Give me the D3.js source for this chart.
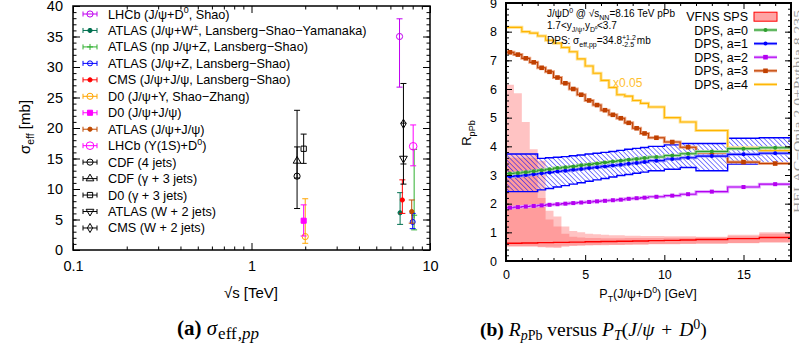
<!DOCTYPE html>
<html>
<head>
<meta charset="utf-8">
<script src="https://cdn.jsdelivr.net/npm/d3@7"></script>
<style>
  body { margin: 0; background: #fff; }
  text { white-space: pre; }
</style>
</head>
<body>
<svg id="fig" width="799" height="354" font-family="Liberation Sans, Arial, sans-serif"></svg>
<script>
// ---------------- panel (a): sigma_eff measurements ----------------
const expLabels = ["LHCb (J/ψ+D^{0}, Shao)", "ATLAS (J/ψ+W^{±}, Lansberg−Shao−Yamanaka)",
  "ATLAS (np J/ψ+Z, Lansberg−Shao)", "ATLAS (J/ψ+Z, Lansberg−Shao)", "CMS (J/ψ+J/ψ, Lansberg−Shao)",
  "D0 (J/ψ+Υ, Shao−Zhang)", "D0 (J/ψ+J/ψ)", "ATLAS (J/ψ+J/ψ)", "LHCb (Υ(1S)+D^{0})",
  "CDF (4 jets)", "CDF (γ + 3 jets)", "D0 (γ + 3 jets)", "ATLAS (W + 2 jets)", "CMS (W + 2 jets)"];
const expColors = ["#c000f0", "#007050", "#30b030", "#0000ff", "#ff0000", "#ffa500", "#ff00ff",
  "#c04a00", "#ff00ff", "#000", "#000", "#000", "#000", "#000"];
const expSymbols = ["circle", "dot", "plus", "circleSmall", "dot", "circle", "squareFilled", "dot",
  "circleBig", "circle", "triangle", "square", "triangleDown", "diamond"];
const expSqrtS = [6.75, 6.8, 8.15, 8.0, 7.0, 2.0, 1.96, 7.9, 8.05, 1.8, 1.8, 1.96, 7.1, 7.1];
const expSigma = [35.0, 6.1, 5.7, 4.6, 8.2, 2.2, 4.8, 6.3, 17.0, 12.1, 14.6, 16.6, 15.0, 20.7];
const expErrLo = [26.7, 4.2, 3.3, 3.5, 6.0, 1.1, 2.3, 4.4, 13.8, 6.8, 11.8, 14.2, 10.8, 14.1];
const expErrHi = [37.9, 9.4, 16.5, 6.0, 11.5, 8.4, 7.4, 8.2, 20.5, 22.9, 16.9, 19.0, 20.8, 27.3];

const sqrtsTicks = [0.1, 1, 10];
const sqrtsMinor = [0.2, 0.3, 0.4, 0.5, 0.6, 0.7, 0.8, 0.9, 2, 3, 4, 5, 6, 7, 8, 9];
const sigmaTicks = [0, 5, 10, 15, 20, 25, 30, 35, 40];

// ---------------- panel (b): R_pPb vs pT ----------------
const ptEdges = [0, 0.5, 1, 1.5, 2, 2.5, 3, 3.5, 4, 4.5, 5, 5.5, 6, 6.5, 7, 7.5, 8, 8.5, 9, 10, 11, 12, 14, 16, 18];
const dpsA0 = [3.05, 3.07, 3.1, 3.13, 3.17, 3.2, 3.24, 3.27, 3.3, 3.34, 3.37, 3.4, 3.44, 3.47, 3.5, 3.53,
  3.56, 3.59, 3.63, 3.68, 3.74, 3.82, 3.92, 3.95];
const dpsA1 = [2.95, 2.97, 3.0, 3.03, 3.06, 3.09, 3.12, 3.15, 3.18, 3.21, 3.24, 3.27, 3.3, 3.33, 3.36, 3.39,
  3.42, 3.45, 3.5, 3.56, 3.6, 3.66, 3.72, 3.76];
const dpsA1Lo = [2.42, 2.42, 2.42, 2.42, 2.48, 2.53, 2.58, 2.63, 2.68, 2.73, 2.78, 2.83, 2.88, 2.93, 2.98, 3.02,
  3.06, 3.1, 3.15, 3.2, 3.26, 3.15, 3.38, 3.38];
const dpsA1Hi = [3.73, 3.73, 3.73, 3.73, 3.58, 3.6, 3.62, 3.64, 3.67, 3.7, 3.73, 3.76, 3.79, 3.82, 3.86, 3.9,
  3.93, 3.96, 4.0, 4.05, 4.1, 4.1, 4.28, 4.3];
const dpsA2 = [1.86, 1.88, 1.9, 1.92, 1.94, 1.96, 1.98, 2.0, 2.02, 2.04, 2.06, 2.08, 2.1, 2.12, 2.14, 2.17,
  2.19, 2.21, 2.24, 2.28, 2.33, 2.42, 2.58, 2.68];
const dpsA3 = [7.28, 7.2, 7.07, 6.93, 6.74, 6.6, 6.4, 6.2, 6.0, 5.8, 5.6, 5.44, 5.26, 5.1, 4.98, 4.82,
  4.63, 4.45, 4.3, 4.15, 3.97, 3.78, 3.45, 3.4];
const dpsA4 = [8.15, 8.15, 8.0, 7.95, 7.85, 7.7, 7.6, 7.45, 7.3, 7.05, 6.8, 6.55, 6.3, 6.05, 5.8, 5.75,
  5.6, 5.5, 5.37, 5.0, 4.85, 4.55, 3.95, 3.85];
const spsCentral = [0.62, 0.62, 0.63, 0.63, 0.64, 0.64, 0.65, 0.65, 0.66, 0.66, 0.67, 0.67, 0.68, 0.68, 0.69, 0.69,
  0.7, 0.7, 0.71, 0.72, 0.73, 0.75, 0.78, 0.82];
const spsBandAHi = [6.15, 5.85, 4.85, 3.9, 3.5, 1.75, 1.55, 1.2, 1.05, 1.0, 0.95, 0.93, 0.92, 0.9, 0.9, 0.88,
  0.88, 0.87, 0.87, 0.86, 0.86, 0.85, 0.92, 1.0];
const spsBandALo = [0.5, 0.5, 0.5, 0.5, 0.48, 0.46, 0.45, 0.5, 0.52, 0.53, 0.54, 0.55, 0.55, 0.56, 0.56, 0.56,
  0.57, 0.57, 0.58, 0.58, 0.59, 0.6, 0.62, 0.64];
const spsBandBHi = [3.6, 3.6, 3.6, 3.6, 2.2, 1.45, 1.2, 0.95, 0.85, 0.82, 0.8, 0.8, 0.79, 0.79, 0.79, 0.8,
  0.8, 0.8, 0.8, 0.81, 0.81, 0.82, 0.86, 0.95];
const spsBandBLo = [0.52, 0.52, 0.52, 0.52, 0.5, 0.5, 0.5, 0.53, 0.54, 0.55, 0.56, 0.56, 0.57, 0.57, 0.57, 0.58,
  0.58, 0.58, 0.59, 0.59, 0.6, 0.61, 0.63, 0.66];

const ptTicks = [0, 5, 10, 15];
const ptMinor = [1, 2, 3, 4, 6, 7, 8, 9, 11, 12, 13, 14, 16, 17, 18];
const rTicks = [0, 1, 2, 3, 4, 5, 6, 7, 8, 9];

const dpsNames = ["DPS, a=0", "DPS, a=1", "DPS, a=2", "DPS, a=3", "DPS, a=4"];
const dpsColors = ["#2e9e2e", "#0000ff", "#b400f0", "#c04000", "#ffb400"];
const dpsHalo = ["#9fd59f", "#8c8cff", "#e0a0ff", "#eba684", "#ffe08a"];

// ---------------------------------------------------------------
const svg = d3.select("#fig");
const SANS = "Liberation Sans, Arial, sans-serif";
const SERIF = "Liberation Serif, Times New Roman, serif";

// text with ^{} and _{} markup
function rich(t, str, fs) {
  const parts = str.split(/(\^\{[^}]*\}|_\{[^}]*\})/).filter(s => s !== "");
  let shift = 0, lastSup = null;
  parts.forEach(p => {
    let target = 0, size = fs, content = p;
    const isSup = p.startsWith("^{"), isSub = p.startsWith("_{");
    if (isSup) { target = -0.42 * fs; size = 0.7 * fs; content = p.slice(2, -1); }
    if (isSub) { target = 0.28 * fs; size = 0.7 * fs; content = p.slice(2, -1); }
    const ts = t.append("tspan").attr("dy", target - shift).attr("font-size", size).text(content);
    if (isSub && lastSup) ts.attr("dx", -lastSup.node().getComputedTextLength());
    lastSup = isSup ? ts : null;
    shift = target;
  });
  return t;
}

function styleAxis(a, fs) {
  a.select(".domain").remove();
  a.selectAll("line").attr("stroke", "#000").attr("stroke-width", 1);
  a.selectAll("text").attr("font-size", fs).attr("font-family", SANS).attr("fill", "#000");
}

function frame(g, x, y, o) {
  const [x0, x1] = x.range(), [y0, y1] = y.range();
  const add = (axis, tr) => { const a = g.append("g").attr("transform", tr).call(axis); styleAxis(a, o.fs); };
  add(d3.axisBottom(x).tickValues(o.xMajor).tickSize(-o.maj).tickPadding(o.xPad).tickFormat(o.xFmt), `translate(0,${y0})`);
  add(d3.axisBottom(x).tickValues(o.xMinor).tickSize(-o.min).tickFormat(""), `translate(0,${y0})`);
  add(d3.axisTop(x).tickValues(o.xMajor).tickSize(-o.maj).tickFormat(""), `translate(0,${y1})`);
  add(d3.axisTop(x).tickValues(o.xMinor).tickSize(-o.min).tickFormat(""), `translate(0,${y1})`);
  add(d3.axisLeft(y).tickValues(o.yMajor).tickSize(-o.maj).tickPadding(o.yPad).tickFormat(d3.format("d")), `translate(${x0},0)`);
  add(d3.axisLeft(y).tickValues(o.yMinor).tickSize(-o.min).tickFormat(""), `translate(${x0},0)`);
  add(d3.axisRight(y).tickValues(o.yMajor).tickSize(-o.maj).tickFormat(""), `translate(${x1},0)`);
  add(d3.axisRight(y).tickValues(o.yMinor).tickSize(-o.min).tickFormat(""), `translate(${x1},0)`);
  g.append("rect").attr("x", x0).attr("y", y1).attr("width", x1 - x0).attr("height", y0 - y1)
    .attr("fill", "none").attr("stroke", "#000").attr("stroke-width", o.sw);
}

function marker(g, type, cx, cy, color) {
  const spec = {
    circle: [d3.symbolCircle, 30, false], circleSmall: [d3.symbolCircle, 20, false],
    circleBig: [d3.symbolCircle, 46, false], dot: [d3.symbolCircle, 14, true],
    squareFilled: [d3.symbolSquare, 26, true], square: [d3.symbolSquare, 28, false],
    triangle: [d3.symbolTriangle, 26, false], triangleDown: [d3.symbolTriangle, 26, false],
    diamond: [d3.symbolDiamond, 24, false]
  };
  if (type === "plus") {
    g.append("path").attr("d", `M${cx - 3},${cy}H${cx + 3}M${cx},${cy - 3}V${cy + 3}`)
      .attr("stroke", color).attr("stroke-width", 1);
    return;
  }
  const [sym, size, filled] = spec[type];
  g.append("path").attr("d", d3.symbol(sym, size)())
    .attr("transform", `translate(${cx},${cy})` + (type === "triangleDown" ? " rotate(180)" : ""))
    .attr("fill", filled ? color : "none").attr("stroke", color).attr("stroke-width", 1);
}

// ================= panel (a) =================
const xA = d3.scaleLog().domain([0.1, 10]).range([73, 430]);
const yA = d3.scaleLinear().domain([0, 40]).range([250, 6]);
const gA = svg.append("g");

frame(gA, xA, yA, {
  xMajor: sqrtsTicks, xMinor: sqrtsMinor, yMajor: sigmaTicks, yMinor: d3.range(0, 41),
  maj: 7, min: 3.5, fs: 14.5, xPad: 11, yPad: 10, sw: 1.5, xFmt: d3.format("")
});

// data points
expLabels.forEach((lab, i) => {
  const cx = xA(expSqrtS[i]), c = expColors[i];
  const ylo = yA(expErrLo[i]), yhi = yA(expErrHi[i]);
  gA.append("path").attr("d", `M${cx},${ylo}V${yhi}M${cx - 3},${ylo}H${cx + 3}M${cx - 3},${yhi}H${cx + 3}`)
    .attr("stroke", c).attr("stroke-width", 1).attr("fill", "none");
  marker(gA, expSymbols[i], cx, yA(expSigma[i]), c);
});

// legend
expLabels.forEach((lab, i) => {
  const ly = 14 + 16.46 * i, c = expColors[i];
  gA.append("path").attr("d", `M83,${ly}H97M83,${ly - 2.5}V${ly + 2.5}M97,${ly - 2.5}V${ly + 2.5}`)
    .attr("stroke", c).attr("stroke-width", 1);
  marker(gA, expSymbols[i], 90, ly, c);
  rich(gA.append("text").attr("x", 108).attr("y", ly + 4.5).attr("font-size", 12.7), lab, 12.7);
});

// axis titles
rich(gA.append("text").attr("transform", "translate(30,127) rotate(-90)").attr("text-anchor", "middle")
  .attr("font-size", 15), "σ_{eff} [mb]", 15);
gA.append("text").attr("x", 251).attr("y", 298).attr("text-anchor", "middle").attr("font-size", 15)
  .text("√s [TeV]");

// ================= panel (b) =================
const xB = d3.scaleLinear().domain([0, 18]).range([506, 791]);
const yB = d3.scaleLinear().domain([0, 9]).range([261, 3]);
const gB = svg.append("g");

const defs = svg.append("defs");
defs.append("clipPath").attr("id", "clipB").append("rect")
  .attr("x", 506).attr("y", 3).attr("width", 285).attr("height", 258);
const pat = defs.append("pattern").attr("id", "hatch").attr("patternUnits", "userSpaceOnUse")
  .attr("width", 3.4).attr("height", 3.4).attr("patternTransform", "rotate(-45)");
pat.append("line").attr("x1", 0).attr("y1", 0).attr("x2", 0).attr("y2", 3.4)
  .attr("stroke", "#0000ff").attr("stroke-width", 1);

const plot = gB.append("g").attr("clip-path", "url(#clipB)");
const binVal = (arr, i) => arr[Math.min(i, arr.length - 1)];
const bandArea = d3.area().x(d => xB(d.x)).y0(d => yB(d.lo)).y1(d => yB(d.hi)).curve(d3.curveStepAfter);
const stepLine = d3.line().x(d => xB(d.x)).y(d => yB(d.y)).curve(d3.curveStepAfter);
const bandPts = (lo, hi) => ptEdges.map((e, i) => ({ x: e, lo: binVal(lo, i), hi: binVal(hi, i) }));
const linePts = v => ptEdges.map((e, i) => ({ x: e, y: binVal(v, i) }));

// VFNS SPS bands
[[spsBandALo, spsBandAHi], [spsBandBLo, spsBandBHi]].forEach(([lo, hi]) => {
  plot.append("path").attr("d", bandArea(bandPts(lo, hi))).attr("fill", "#ff5a5a").attr("fill-opacity", 0.36);
});
plot.append("path").attr("d", stepLine(linePts(spsCentral))).attr("fill", "none")
  .attr("stroke", "#ff0000").attr("stroke-width", 1.4);

// a=1 uncertainty band (hatched)
plot.append("path").attr("d", bandArea(bandPts(dpsA1Lo, dpsA1Hi))).attr("fill", "url(#hatch)")
  .attr("stroke", "#0000ff").attr("stroke-width", 1.4);

// DPS curves
const dpsSeries = [dpsA0, dpsA1, dpsA2, dpsA3, dpsA4];
const dpsMark = ["dot", "dot", "sq", "sqBig", null];
[4, 3, 2, 1, 0].forEach(k => {
  const d = stepLine(linePts(dpsSeries[k]));
  plot.append("path").attr("d", d).attr("fill", "none").attr("stroke", dpsHalo[k]).attr("stroke-width", 3);
  plot.append("path").attr("d", d).attr("fill", "none").attr("stroke", dpsColors[k]).attr("stroke-width", 1.1);
  if (!dpsMark[k]) return;
  dpsSeries[k].forEach((v, i) => {
    const cx = xB((ptEdges[i] + ptEdges[i + 1]) / 2), cy = yB(v);
    if (dpsMark[k] === "dot") plot.append("circle").attr("cx", cx).attr("cy", cy).attr("r", 2).attr("fill", dpsColors[k]);
    else {
      const s = dpsMark[k] === "sq" ? 4 : 4.6;
      plot.append("rect").attr("x", cx - s / 2).attr("y", cy - s / 2).attr("width", s).attr("height", s).attr("fill", dpsColors[k]);
    }
  });
});

plot.append("text").attr("x", 613).attr("y", 87).attr("font-size", 12).attr("fill", "#ffc030").text("x0.05");

frame(gB, xB, yB, {
  xMajor: ptTicks, xMinor: ptMinor, yMajor: rTicks, yMinor: d3.range(0, 9.01, 0.2),
  maj: 6, min: 3, fs: 12.5, xPad: 9.5, yPad: 9, sw: 2, xFmt: d3.format("d")
});

// annotation
rich(gB.append("text").attr("x", 547).attr("y", 17).attr("font-size", 10), "J/ψD^{0} @ √s_{NN}=8.16 TeV pPb", 10);
rich(gB.append("text").attr("x", 547).attr("y", 29).attr("font-size", 10), "1.7<y_{J/ψ},y_{D⁰}<3.7", 10);
rich(gB.append("text").attr("x", 547).attr("y", 44).attr("font-size", 10), "DPS: σ_{eff,pp}=34.8^{+1.2}_{-2.5} mb", 10);

// legend
const legRows = [16.7, 30, 43.6, 57.2, 70.8, 84.4];
gB.append("text").attr("x", 748).attr("y", legRows[0] + 4.5).attr("text-anchor", "end")
  .attr("font-size", 12.5).text("VFNS SPS");
gB.append("rect").attr("x", 754).attr("y", legRows[0] - 4.5).attr("width", 23).attr("height", 9)
  .attr("fill", "#ffa4a4").attr("stroke", "#ff0000").attr("stroke-width", 1);
dpsNames.forEach((n, k) => {
  const ly = legRows[k + 1];
  gB.append("text").attr("x", 748).attr("y", ly + 4.5).attr("text-anchor", "end").attr("font-size", 12.5).text(n);
  gB.append("line").attr("x1", 754).attr("x2", 777).attr("y1", ly).attr("y2", ly)
    .attr("stroke", dpsHalo[k]).attr("stroke-width", 3);
  gB.append("line").attr("x1", 754).attr("x2", 777).attr("y1", ly).attr("y2", ly)
    .attr("stroke", dpsColors[k]).attr("stroke-width", 1.1);
  if (dpsMark[k] === "dot") gB.append("circle").attr("cx", 765.5).attr("cy", ly).attr("r", 2).attr("fill", dpsColors[k]);
  else if (dpsMark[k]) gB.append("rect").attr("x", 763.2).attr("y", ly - 2.3).attr("width", 4.6).attr("height", 4.6).attr("fill", dpsColors[k]);
});

// axis titles
rich(gB.append("text").attr("transform", "translate(471,133) rotate(-90)").attr("text-anchor", "middle")
  .attr("font-size", 13), "R_{pPb}", 13);
rich(gB.append("text").attr("x", 648).attr("y", 298).attr("text-anchor", "middle").attr("font-size", 12.5),
  "P_{T}(J/ψ+D^{0}) [GeV]", 12.5);

// generator tag on the right edge (partly cut off)
gB.append("text").attr("transform", "translate(802,213) rotate(-90)").attr("font-family", SERIF)
  .attr("font-size", 13).attr("fill", "#999").attr("textLength", 203).attr("lengthAdjust", "spacingAndGlyphs")
  .text("HELAC−Onia 2.0+Pythia 8.235");

// ================= captions =================
const capA = svg.append("text").attr("x", 177).attr("y", 335).attr("font-family", SERIF).attr("font-size", 21);
capA.append("tspan").attr("font-weight", "bold").text("(a) ");
capA.append("tspan").attr("font-style", "italic").text("σ");
capA.append("tspan").attr("font-size", 17).attr("dy", 4).attr("dx", 1).text("eff");
capA.append("tspan").attr("font-size", 17).attr("font-style", "italic").attr("dx", 1).text(",pp");

const capB = svg.append("text").attr("x", 480).attr("y", 336).attr("font-family", SERIF).attr("font-size", 19.5);
capB.append("tspan").attr("font-weight", "bold").text("(b) ");
capB.append("tspan").attr("font-style", "italic").text("R");
capB.append("tspan").attr("font-size", 14).attr("dy", 4).attr("font-style", "italic").text("p");
capB.append("tspan").attr("font-size", 14).text("Pb");
capB.append("tspan").attr("dy", -4).text(" versus ");
capB.append("tspan").attr("font-style", "italic").text("P");
capB.append("tspan").attr("font-size", 14).attr("dy", 4).attr("font-style", "italic").text("T");
capB.append("tspan").attr("dy", -4).text("(");
capB.append("tspan").attr("font-style", "italic").text("J");
capB.append("tspan").text("/");
capB.append("tspan").attr("font-style", "italic").text("ψ");
capB.append("tspan").attr("dx", 2).text(" + ");
capB.append("tspan").attr("font-style", "italic").attr("dx", 2).text("D");
capB.append("tspan").attr("font-size", 14).attr("dy", -7).text("0");
capB.append("tspan").attr("dy", 7).text(")");
</script>
</body>
</html>
